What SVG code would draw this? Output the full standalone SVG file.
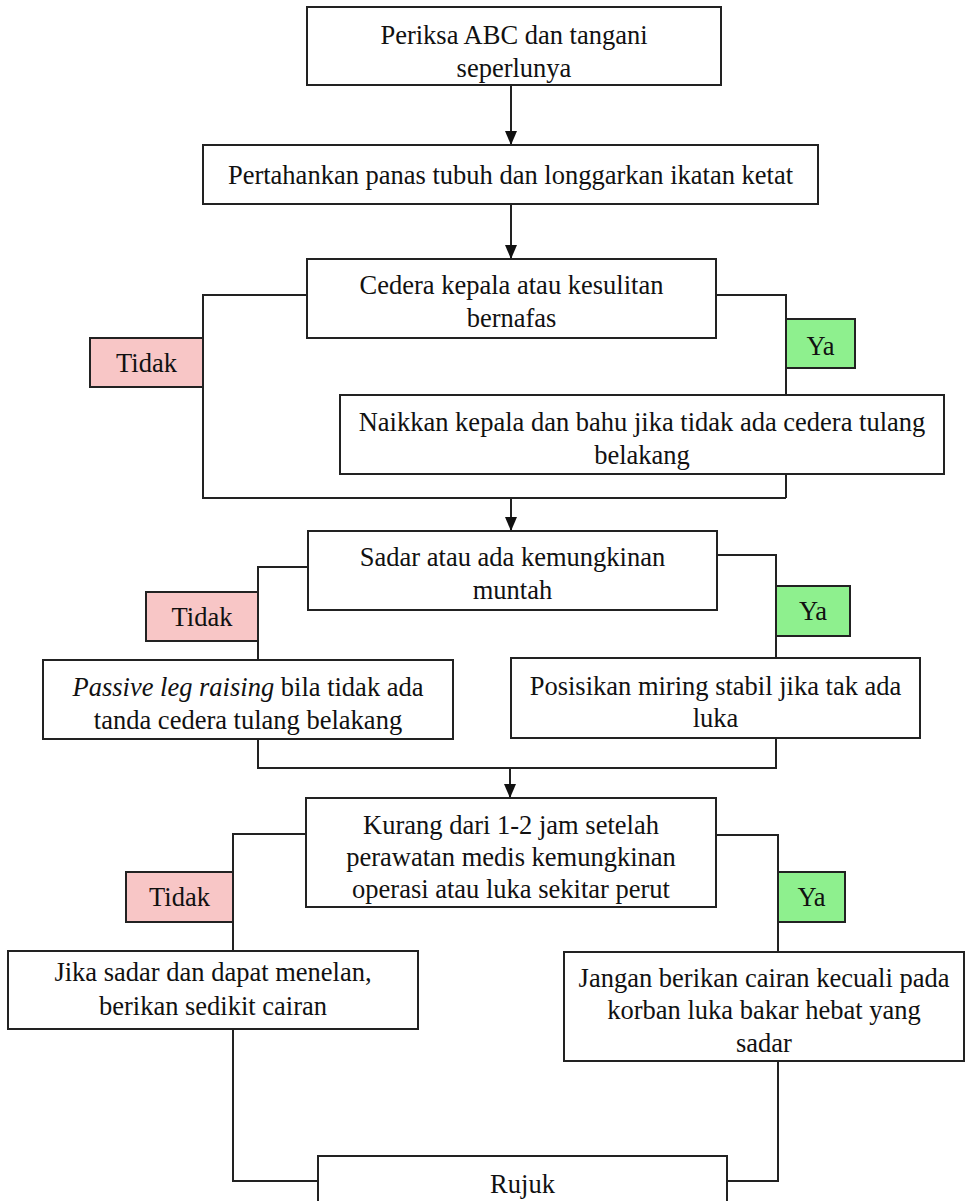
<svg xmlns="http://www.w3.org/2000/svg" width="966" height="1201" viewBox="0 0 966 1201">
<style>
  .box { fill: #ffffff; stroke: #222222; stroke-width: 2; }
  .no { fill: #f8c6c6; stroke: #222222; stroke-width: 2; }
  .yes { fill: #8ef08e; stroke: #222222; stroke-width: 2; }
  .line { fill: none; stroke: #222222; stroke-width: 2; }
  text { font-family: "Liberation Serif", "Times New Roman", serif; font-size: 26.5px; fill: #111111; text-anchor: middle; }
</style>
<defs>
  <marker id="arrowL" viewBox="0 0 14 12" refX="14" refY="6" markerWidth="14" markerHeight="12" markerUnits="userSpaceOnUse" orient="auto">
    <path d="M0,0 L14,6 L0,12 z" fill="#111111"/>
  </marker>
</defs>
<rect width="966" height="1201" fill="#ffffff"/>

<g id="connectors">
  <line class="line" x1="511" y1="85" x2="511" y2="145" marker-end="url(#arrowL)"/>
  <line class="line" x1="511" y1="204" x2="511" y2="259" marker-end="url(#arrowL)"/>
  <path class="line" d="M307,295 H203 V498 H786"/>
  <path class="line" d="M716,295 H786 V395"/>
  <path class="line" d="M786,474 V498"/>
  <line class="line" x1="511" y1="498" x2="511" y2="531" marker-end="url(#arrowL)"/>
  <path class="line" d="M308,567 H258 V660"/>
  <path class="line" d="M717,555 H776 V658"/>
  <path class="line" d="M258,739 V768 H776 V738"/>
  <line class="line" x1="510" y1="768" x2="510" y2="798" marker-end="url(#arrowL)"/>
  <path class="line" d="M306,834 H233 V951"/>
  <path class="line" d="M716,835 H778 V952"/>
  <path class="line" d="M233,1029 V1181 H318"/>
  <path class="line" d="M778,1061 V1181 H727"/>
</g>

<g id="n1">
  <rect class="box" x="307" y="7" width="414" height="78"/>
  <text x="514" y="43.5">Periksa ABC dan tangani</text>
  <text x="514" y="76.5">seperlunya</text>
</g>
<g id="n2">
  <rect class="box" x="203" y="145" width="615" height="59"/>
  <text x="510.5" y="183.5">Pertahankan panas tubuh dan longgarkan ikatan ketat</text>
</g>
<g id="n3">
  <rect class="box" x="307" y="259" width="409" height="79"/>
  <text x="511.5" y="293.5">Cedera kepala atau kesulitan</text>
  <text x="511.5" y="326.5">bernafas</text>
</g>
<g id="l1no">
  <rect class="no" x="90" y="338" width="113" height="49"/>
  <text x="146.5" y="372">Tidak</text>
</g>
<g id="l1yes">
  <rect class="yes" x="786" y="319" width="69" height="49"/>
  <text x="820.5" y="355">Ya</text>
</g>
<g id="n4">
  <rect class="box" x="340" y="395" width="604" height="79"/>
  <text x="642" y="430.5">Naikkan kepala dan bahu jika tidak ada cedera tulang</text>
  <text x="642" y="463.5">belakang</text>
</g>
<g id="n5">
  <rect class="box" x="308" y="531" width="409" height="79"/>
  <text x="512.5" y="565.5">Sadar atau ada kemungkinan</text>
  <text x="512.5" y="598.5">muntah</text>
</g>
<g id="l2no">
  <rect class="no" x="146" y="592" width="112" height="49"/>
  <text x="202" y="626">Tidak</text>
</g>
<g id="l2yes">
  <rect class="yes" x="776" y="586" width="74" height="50"/>
  <text x="813" y="620">Ya</text>
</g>
<g id="n6">
  <rect class="box" x="43" y="660" width="410" height="79"/>
  <text x="248" y="695.5"><tspan font-style="italic">Passive leg raising</tspan> bila tidak ada</text>
  <text x="248" y="728.5">tanda cedera tulang belakang</text>
</g>
<g id="n7">
  <rect class="box" x="511" y="658" width="409" height="80"/>
  <text x="715.5" y="694.5">Posisikan miring stabil jika tak ada</text>
  <text x="715.5" y="727">luka</text>
</g>
<g id="n8">
  <rect class="box" x="306" y="798" width="410" height="109"/>
  <text x="511" y="833.5">Kurang dari 1-2 jam setelah</text>
  <text x="511" y="865.5">perawatan medis kemungkinan</text>
  <text x="511" y="897.5">operasi atau luka sekitar perut</text>
</g>
<g id="l3no">
  <rect class="no" x="126" y="872" width="107" height="50"/>
  <text x="179.5" y="906">Tidak</text>
</g>
<g id="l3yes">
  <rect class="yes" x="778" y="872" width="67" height="50"/>
  <text x="811.5" y="906">Ya</text>
</g>
<g id="n9">
  <rect class="box" x="8" y="951" width="410" height="78"/>
  <text x="213" y="980.5">Jika sadar dan dapat menelan,</text>
  <text x="213" y="1014.5">berikan sedikit cairan</text>
</g>
<g id="n10">
  <rect class="box" x="564" y="952" width="400" height="109"/>
  <text x="764" y="986.5">Jangan berikan cairan kecuali pada</text>
  <text x="764" y="1018.5">korban luka bakar hebat yang</text>
  <text x="764" y="1051.5">sadar</text>
</g>
<g id="n11">
  <rect class="box" x="318" y="1156" width="409" height="60"/>
  <text x="522.5" y="1193">Rujuk</text>
</g>
</svg>
